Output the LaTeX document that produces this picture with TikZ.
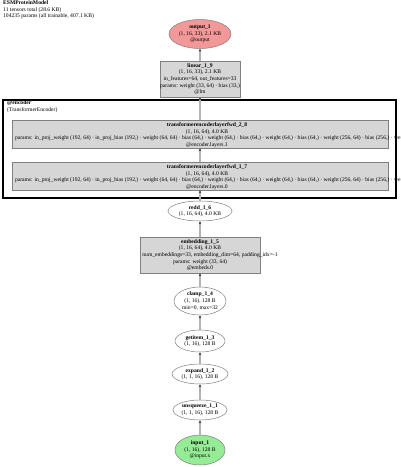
\documentclass[tikz,border=0pt]{standalone}
\usepackage{fontspec}
\setmainfont{Liberation Serif}
\usepackage{xcolor}
\usepackage{tikz}
\usetikzlibrary{shapes.geometric, arrows.meta, positioning, calc}

\definecolor{outred}{RGB}{242,152,152}
\definecolor{ingreen}{RGB}{150,236,150}
\definecolor{boxgray}{RGB}{214,214,214}
\definecolor{boxline}{RGB}{128,128,128}
\definecolor{flowgray}{RGB}{178,178,178}

\tikzset{
  lbl/.style={font=\fontsize{5.6}{6.6}\selectfont, align=center, inner sep=0pt},
  opnode/.style={ellipse, draw=boxline, fill=white, line width=0.5pt, lbl},
  modbox/.style={rectangle, draw=boxline, fill=boxgray, line width=0.5pt, lbl},
  clusterbox/.style={rectangle, draw=black, line width=2pt, inner sep=0pt},
  flow/.style={draw=flowgray, line width=1.1pt, -{Stealth[length=3pt, width=2.6pt, color=black!80]}}
}

\begin{document}
\begin{tikzpicture}[x=1pt, y=-1pt]
\useasboundingbox (0,0) rectangle (400,467);

% header
\node[lbl, anchor=north west, align=left] (title) at (3,0.5) {\textbf{ESMProteinModel}\\11 tensors total (28.6 KB)\\104235 params (all trainable, 407.1 KB)};

% output
\node[opnode, fill=outred, minimum width=62, minimum height=29] (output1) at (200,34) {\textbf{output\_1}\\(1, 16, 33), 2.1 KB\\@output};

% lm head
\node[modbox, minimum width=74, minimum height=36] (linear19) at (200,79) {\textbf{linear\_1\_9}\\(1, 16, 33), 2.1 KB\\in\_features=64, out\_features=33\\params: weight (33, 64) · bias (33,)\\@lm};

% encoder cluster
\node[clusterbox, minimum width=393, minimum height=98] (encoder) at (199.5,149) {};
\node[lbl, anchor=north west, align=left] (enclbl) at (7,100.5) {\textbf{@encoder}\\(TransformerEncoder)};

\node[modbox, minimum width=376, minimum height=28] (tfl28) at (200,134) {};
\node[lbl] (tfl28lbl) at (207,135) {\textbf{transformerencoderlayerfwd\_2\_8}\\(1, 16, 64), 4.0 KB\\\makebox[0pt][l]{\hspace*{-192pt}params: in\_proj\_weight (192, 64) · in\_proj\_bias (192,) · weight (64, 64) · bias (64,) · weight (64,) · bias (64,) · weight (64,) · bias (64,) · weight (256, 64) · bias (256,) · weight (64, 256) · bias (64,)}\\@encoder.layers.1};

\node[modbox, minimum width=376, minimum height=28] (tfl17) at (200,176) {};
\node[lbl] (tfl17lbl) at (207,177) {\textbf{transformerencoderlayerfwd\_1\_7}\\(1, 16, 64), 4.0 KB\\\makebox[0pt][l]{\hspace*{-192pt}params: in\_proj\_weight (192, 64) · in\_proj\_bias (192,) · weight (64, 64) · bias (64,) · weight (64,) · bias (64,) · weight (64,) · bias (64,) · weight (256, 64) · bias (256,) · weight (64, 256) · bias (64,)}\\@encoder.layers.0};

% embedding part
\node[opnode, minimum width=64, minimum height=20] (redd16) at (200,211) {\textbf{redd\_1\_6}\\(1, 16, 64), 4.0 KB};
\node[modbox, minimum width=120, minimum height=36] (embed15) at (200,255) {\textbf{embedding\_1\_5}\\(1, 16, 64), 4.0 KB\\\makebox[0pt]{\hspace*{20pt}num\_embeddings=33, embedding\_dim=64, padding\_idx=-1}\\params: weight (33, 64)\\@embeds.0};

% input ops
\node[opnode, minimum width=52, minimum height=28] (clamp14) at (200,301) {\textbf{clamp\_1\_4}\\(1, 16), 128 B\\min=0, max=32};
\node[opnode, minimum width=50, minimum height=22] (getitem13) at (200,341) {\textbf{getitem\_1\_3}\\(1, 16), 128 B};
\node[opnode, minimum width=56, minimum height=20] (expand12) at (200,374) {\textbf{expand\_1\_2}\\(1, 1, 16), 128 B};
\node[opnode, minimum width=54, minimum height=20] (unsq11) at (200,410) {\textbf{unsqueeze\_1\_1}\\(1, 1, 16), 128 B};
\node[opnode, fill=ingreen, minimum width=50, minimum height=30] (input1) at (200,450) {\textbf{input\_1}\\(1, 16), 128 B\\@input.x};

% edges
\draw[flow] (input1) -- (unsq11);
\draw[flow] (unsq11) -- (expand12);
\draw[flow] (expand12) -- (getitem13);
\draw[flow] (getitem13) -- (clamp14);
\draw[flow] (clamp14) -- (embed15);
\draw[flow] (embed15) -- (redd16);
\draw[flow] (redd16) -- (tfl17);
\draw[flow] (tfl17) -- (tfl28);
\draw[flow] (tfl28) -- (linear19);
\draw[flow] (linear19) -- (output1);
\end{tikzpicture}
\end{document}
